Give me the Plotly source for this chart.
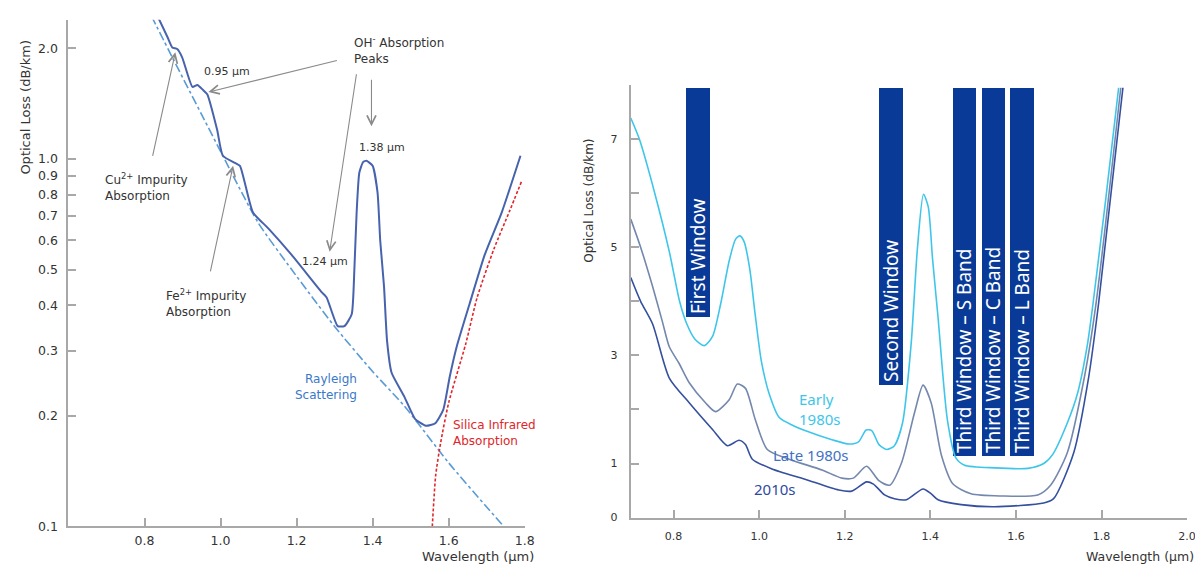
import math
import plotly.graph_objects as go

# ---------------- Left panel data ----------------
loss_x = [0.834, 0.86, 0.873, 0.886, 0.899, 0.926, 0.939, 0.954, 0.965, 0.991, 1.006, 1.038, 1.051,
          1.085, 1.125, 1.187, 1.266, 1.279, 1.308, 1.326, 1.345, 1.352, 1.358, 1.365, 1.375, 1.384,
          1.40, 1.413, 1.42, 1.43, 1.438, 1.45, 1.483, 1.512, 1.540, 1.565, 1.586, 1.603, 1.621,
          1.655, 1.695, 1.74, 1.789]
loss_y = [2.45, 2.15, 2.01, 1.99, 1.89, 1.57, 1.59, 1.54, 1.50, 1.20, 1.02, 0.975, 0.958,
          0.716, 0.648, 0.548, 0.434, 0.42, 0.351, 0.351, 0.378, 0.50, 0.716, 0.917, 0.98, 0.988,
          0.958, 0.81, 0.60, 0.45, 0.32, 0.262, 0.226, 0.196, 0.188, 0.191, 0.208, 0.256, 0.308,
          0.403, 0.549, 0.717, 1.02]

rayleigh_x = [0.818, 0.873, 0.952, 1.006, 1.098, 1.187, 1.30, 1.40, 1.483, 1.60, 1.70, 1.745]
rayleigh_y = [2.45, 1.89, 1.31, 1.02, 0.673, 0.50, 0.35, 0.264, 0.213, 0.149, 0.113, 0.1]

silica_x = [1.557, 1.566, 1.579, 1.60, 1.645, 1.675, 1.72, 1.76, 1.792]
silica_y = [0.1, 0.138, 0.169, 0.217, 0.314, 0.42, 0.572, 0.72, 0.87]

left_yticks = [0.1, 0.2, 0.3, 0.4, 0.5, 0.6, 0.7, 0.8, 0.9, 1.0, 2.0]
left_yticktext = ["0.1", "0.2", "0.3", "0.4", "0.5", "0.6", "0.7", "0.8", "0.9", "1.0", "2.0"]
left_xticks = [0.8, 1.0, 1.2, 1.4, 1.6, 1.8]
left_xticktext = ["0.8", "1.0", "1.2", "1.4", "1.6", "1.8"]

# ---------------- Right panel data ----------------
early_x = [0.70, 0.72, 0.756, 0.79, 0.814, 0.83, 0.85, 0.872, 0.891, 0.91, 0.93, 0.945, 0.955, 0.965,
           0.978, 0.99, 1.005, 1.023, 1.047, 1.08, 1.107, 1.17, 1.21, 1.232, 1.25, 1.263, 1.28, 1.298,
           1.316, 1.335, 1.355, 1.37, 1.384, 1.395, 1.405, 1.418, 1.44, 1.46, 1.48, 1.55, 1.628, 1.665,
           1.686, 1.72, 1.744, 1.767, 1.78, 1.81, 1.84]
early_y = [7.39, 7.0, 6.0, 4.92, 4.0, 3.6, 3.3, 3.18, 3.35, 3.95, 4.75, 5.15, 5.21, 5.1,
           4.6, 3.8, 2.9, 2.3, 1.85, 1.7, 1.61, 1.44, 1.36, 1.4, 1.62, 1.61, 1.35, 1.26,
           1.33, 1.75, 3.2, 5.0, 5.98, 5.75, 4.8, 3.7, 1.8, 1.1, 0.97, 0.92, 0.91, 1.0,
           1.17, 1.75, 2.3, 3.2, 3.95, 5.9, 7.95]

late_x = [0.70, 0.723, 0.75, 0.774, 0.79, 0.813, 0.837, 0.875, 0.898, 0.93, 0.949, 0.968, 0.991, 1.019,
          1.07, 1.147, 1.193, 1.22, 1.251, 1.279, 1.305, 1.333, 1.363, 1.383, 1.402, 1.426, 1.453,
          1.495, 1.565, 1.651, 1.681, 1.72, 1.76, 1.787, 1.845]
late_y = [5.52, 5.0, 4.3, 3.62, 3.16, 2.85, 2.49, 2.12, 1.96, 2.18, 2.47, 2.39, 1.81, 1.26,
          1.08, 0.88, 0.73, 0.73, 0.95, 0.69, 0.60, 1.02, 1.94, 2.45, 2.12, 1.15, 0.62,
          0.44, 0.40, 0.42, 0.60, 1.2, 2.6, 3.95, 7.95]

modern_x = [0.70, 0.723, 0.751, 0.79, 0.837, 0.891, 0.926, 0.953, 0.968, 0.984, 1.03, 1.107, 1.186,
            1.216, 1.251, 1.267, 1.293, 1.316, 1.344, 1.383, 1.402, 1.418, 1.472, 1.549, 1.665,
            1.688, 1.735, 1.77, 1.793, 1.85]
modern_y = [4.44, 4.0, 3.58, 2.58, 2.12, 1.63, 1.33, 1.43, 1.35, 1.08, 0.90, 0.71, 0.51,
            0.49, 0.66, 0.62, 0.42, 0.35, 0.33, 0.53, 0.44, 0.33, 0.24, 0.20, 0.27,
            0.35, 1.2, 2.6, 3.95, 7.95]

window_names = ["First Window", "Second Window", "Third Window – S Band",
                "Third Window – C Band", "Third Window – L Band"]
window_start = [0.828, 1.279, 1.453, 1.521, 1.586]
window_end = [0.884, 1.335, 1.507, 1.574, 1.642]
window_bottom = [3.71, 2.45, 1.13, 1.13, 1.13]
window_top = [7.95, 7.95, 7.95, 7.95, 7.95]

right_yticks = [0, 1, 2, 3, 4, 5, 6, 7]
right_yticktext = ["0", "1", "", "3", "", "5", "", "7"]
right_xticks = [0.8, 1.0, 1.2, 1.4, 1.6, 1.8, 2.0]
right_xticktext = ["0.8", "1.0", "1.2", "1.4", "1.6", "1.8", "2.0"]

# ---------------- Styles ----------------
FONT = "DejaVu Sans"
AX_COL = "#a8a8a8"
TXT = "#333333"
ARROW = "#8a8a8a"

fig = go.Figure()

fig.add_trace(go.Scatter(x=rayleigh_x, y=rayleigh_y, mode="lines", xaxis="x", yaxis="y",
                         line=dict(color="#5b9bd5", width=1.6, dash="dashdot", shape="spline", smoothing=0.6),
                         showlegend=False, hoverinfo="skip"))
fig.add_trace(go.Scatter(x=silica_x, y=silica_y, mode="lines", xaxis="x", yaxis="y",
                         line=dict(color="#e0262a", width=1.6, dash="3px,2px", shape="spline", smoothing=0.6),
                         showlegend=False, hoverinfo="skip"))
fig.add_trace(go.Scatter(x=loss_x, y=loss_y, mode="lines", xaxis="x", yaxis="y",
                         line=dict(color="#4763ad", width=2, shape="spline", smoothing=0.5),
                         showlegend=False, hoverinfo="skip"))

# window bars
fig.add_trace(go.Bar(
    x=[(s + e) / 2 for s, e in zip(window_start, window_end)],
    y=[t - b for t, b in zip(window_top, window_bottom)],
    base=window_bottom,
    width=[e - s for s, e in zip(window_start, window_end)],
    text=window_names, textposition="inside", insidetextanchor="start",
    textangle=-90, constraintext="none",
    textfont=dict(family="Noto Sans", size=19, color="white"),
    marker=dict(color="#0a3a98", line=dict(width=0)),
    xaxis="x2", yaxis="y2", showlegend=False, hoverinfo="skip"))

fig.add_trace(go.Scatter(x=early_x, y=early_y, mode="lines", xaxis="x2", yaxis="y2",
                         line=dict(color="#3ec6ea", width=1.6, shape="spline", smoothing=0.7),
                         showlegend=False, hoverinfo="skip"))
fig.add_trace(go.Scatter(x=late_x, y=late_y, mode="lines", xaxis="x2", yaxis="y2",
                         line=dict(color="#7488ad", width=1.6, shape="spline", smoothing=0.7),
                         showlegend=False, hoverinfo="skip"))
fig.add_trace(go.Scatter(x=modern_x, y=modern_y, mode="lines", xaxis="x2", yaxis="y2",
                         line=dict(color="#34509f", width=1.6, shape="spline", smoothing=0.7),
                         showlegend=False, hoverinfo="skip"))

axis_common = dict(showline=True, linecolor=AX_COL, linewidth=2, ticks="inside", ticklen=8,
                   tickcolor=AX_COL, tickwidth=1.5, showgrid=False, zeroline=False)
left_font = dict(family=FONT, size=12.5, color=TXT)
right_font = dict(family=FONT, size=11, color=TXT)

fig.update_layout(
    width=1203, height=564, autosize=False,
    margin=dict(l=0, r=0, t=0, b=0),
    paper_bgcolor="white", plot_bgcolor="white",
    bargap=0,
    xaxis=dict(domain=[61 / 1203, 521 / 1203], range=[0.6, 1.8], anchor="y",
               tickvals=left_xticks, ticktext=left_xticktext, tickfont=left_font,
               ticklabelstandoff=2, **axis_common),
    yaxis=dict(domain=[1 - 525 / 564, 1 - 12 / 564], type="log", range=[-1, math.log10(2.39)],
               anchor="x", tickvals=left_yticks, ticktext=left_yticktext, tickfont=left_font,
               ticklabelstandoff=6, **axis_common),
    xaxis2=dict(domain=[628 / 1203, 1189 / 1203], range=[0.7, 2.0], anchor="y2",
                tickvals=right_xticks, ticktext=right_xticktext, tickfont=right_font,
                ticklabelstandoff=7, **axis_common),
    yaxis2=dict(domain=[1 - 516 / 564, 1 - 78 / 564], range=[0, 8], anchor="x2",
                tickvals=right_yticks, ticktext=right_yticktext, tickfont=right_font,
                ticklabelstandoff=9, **axis_common),
)

ann = []
L = math.log10


def txt(x, y, text, xanchor="center", color=TXT, size=12, align="left", xref="x", yref="y", family=FONT):
    ann.append(dict(x=x, y=y, xref=xref, yref=yref, text=text, showarrow=False, xanchor=xanchor,
                    yanchor="middle", align=align, font=dict(family=family, size=size, color=color)))


def arrow(x, y, ax, ay):
    ann.append(dict(x=x, y=y, xref="x", yref="y", ax=ax, ay=ay, axref="pixel", ayref="pixel",
                    text="", showarrow=True, arrowhead=5, arrowsize=1.6, arrowwidth=1.1,
                    arrowcolor=ARROW, standoff=0, startstandoff=0))


# left annotations
txt(1.017, 0.2366, "0.95 µm", size=11)
txt(1.345, 0.296, "OH<sup>-</sup> Absorption<br>Peaks", xanchor="left", size=12)
txt(1.426, 0.032, "1.38 µm", size=11)
txt(1.276, -0.280, "1.24 µm", size=11)
txt(0.69, -0.075, "Cu<sup>2+</sup> Impurity<br>Absorption", xanchor="left", size=12)
txt(0.85, -0.392, "Fe<sup>2+</sup> Impurity<br>Absorption", xanchor="left", size=12)
txt(1.364, -0.621, "Rayleigh<br>Scattering", xanchor="right", align="right", color="#3a78c8", size=12)
txt(1.606, -0.747, "Silica Infrared<br>Absorption", xanchor="left", color="#e0262a", size=12)

arrow(0.881, L(1.95), -23, 105)
arrow(1.033, L(0.958), -23, 107)
arrow(0.968, L(1.52), 130, -32)
arrow(1.287, L(0.559), 27, -179)
arrow(1.397, L(1.227), 0, -48)

# right labels
txt(1.088, 2.01, "Early<br>1980s", xanchor="left", color="#3ec6ea", size=15, xref="x2", yref="y2",
    family="Noto Sans")
txt(1.028, 1.15, "Late 1980s", xanchor="left", color="#3f72c4", size=15, xref="x2", yref="y2",
    family="Noto Sans")
txt(0.984, 0.53, "2010s", xanchor="left", color="#2e4a9e", size=15, xref="x2", yref="y2",
    family="Noto Sans")

# axis titles
ann.append(dict(x=18 / 1203, y=1 - 100 / 564, xref="paper", yref="paper", text="Optical Loss (dB/km)",
                textangle=-90, showarrow=False, xanchor="center", yanchor="middle",
                font=dict(family=FONT, size=13, color=TXT)))
ann.append(dict(x=532 / 1203, y=1 - 555 / 564, xref="paper", yref="paper", text="Wavelength (µm)",
                showarrow=False, xanchor="right", yanchor="middle",
                font=dict(family=FONT, size=13, color=TXT)))
ann.append(dict(x=585 / 1203, y=1 - 195 / 564, xref="paper", yref="paper", text="Optical Loss (dB/km)",
                textangle=-90, showarrow=False, xanchor="center", yanchor="middle",
                font=dict(family=FONT, size=12, color=TXT)))
ann.append(dict(x=1198 / 1203, y=1 - 555 / 564, xref="paper", yref="paper", text="Wavelength (µm)",
                showarrow=False, xanchor="right", yanchor="middle",
                font=dict(family=FONT, size=12.5, color=TXT)))

fig.update_layout(annotations=ann)
fig.write_html("out.html")
